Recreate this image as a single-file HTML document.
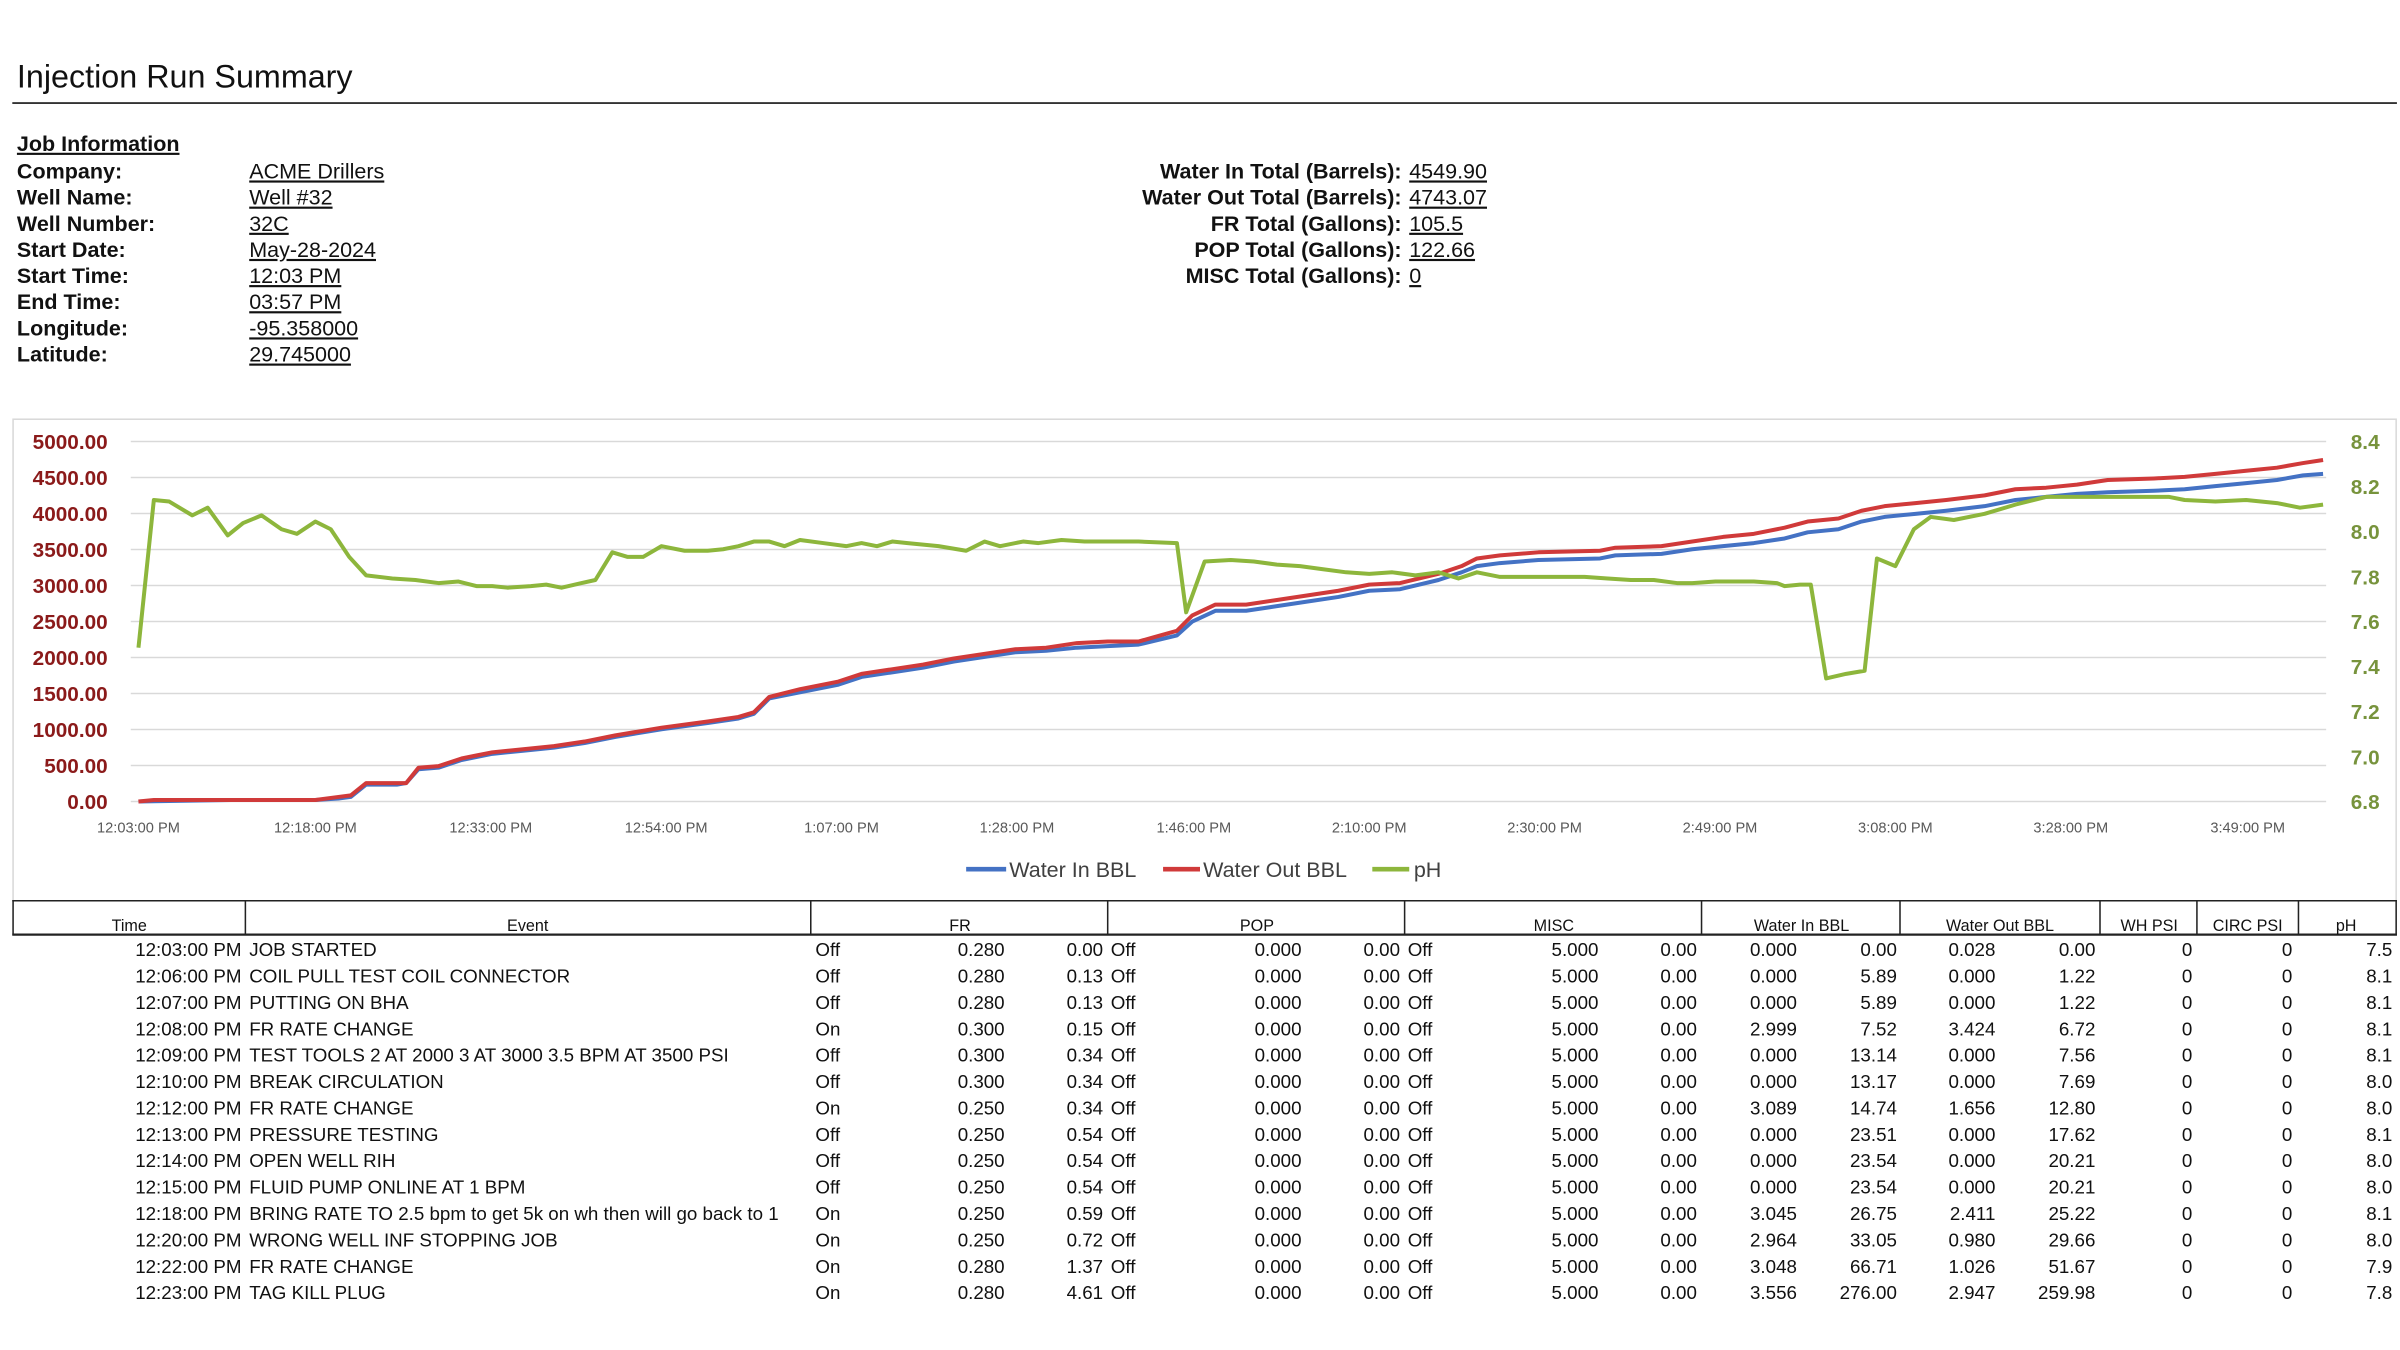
<!DOCTYPE html>
<html><head><meta charset="utf-8"><style>
html,body{margin:0;padding:0;background:#fff;width:2400px;height:1350px;overflow:hidden}
svg{display:block}
.n{font-family:"Liberation Sans Narrow","Liberation Sans",sans-serif}
.b{font-weight:bold}
.r text.e{text-anchor:end}
.r text{font-size:12.2px;fill:#111}
</style></head><body>
<svg width="2400" height="1350" viewBox="0 0 1560 877.5" preserveAspectRatio="none" xmlns="http://www.w3.org/2000/svg" class="n">
<text x="11" y="57" font-size="21" fill="#111">Injection Run Summary</text>
<line x1="8" y1="67" x2="1558" y2="67" stroke="#333" stroke-width="1.2"/>
<g font-size="14" fill="#111">
<text x="11" y="98" class="b" text-decoration="underline">Job Information</text>
<g class="b">
<text x="11" y="116">Company:</text><text x="11" y="133">Well Name:</text><text x="11" y="150">Well Number:</text>
<text x="11" y="167">Start Date:</text><text x="11" y="184">Start Time:</text><text x="11" y="201">End Time:</text>
<text x="11" y="218">Longitude:</text><text x="11" y="235">Latitude:</text>
</g>
<g text-decoration="underline">
<text x="162" y="116">ACME Drillers</text><text x="162" y="133">Well #32</text><text x="162" y="150">32C</text>
<text x="162" y="167">May-28-2024</text><text x="162" y="184">12:03 PM</text><text x="162" y="201">03:57 PM</text>
<text x="162" y="218">-95.358000</text><text x="162" y="235">29.745000</text>
</g>
<g class="b" text-anchor="end">
<text x="911" y="116">Water In Total (Barrels):</text><text x="911" y="133">Water Out Total (Barrels):</text>
<text x="911" y="150">FR Total (Gallons):</text><text x="911" y="167">POP Total (Gallons):</text><text x="911" y="184">MISC Total (Gallons):</text>
</g>
<g text-decoration="underline">
<text x="916" y="116">4549.90</text><text x="916" y="133">4743.07</text><text x="916" y="150">105.5</text>
<text x="916" y="167">122.66</text><text x="916" y="184">0</text>
</g>
</g>
<rect x="8.5" y="272.5" width="1549" height="313" fill="none" stroke="#d9d9d9" stroke-width="1"/>
<g stroke="#d9d9d9" stroke-width="1">
<line x1="85" x2="1512" y1="287" y2="287"/><line x1="85" x2="1512" y1="310.4" y2="310.4"/><line x1="85" x2="1512" y1="333.8" y2="333.8"/>
<line x1="85" x2="1512" y1="357.2" y2="357.2"/><line x1="85" x2="1512" y1="380.6" y2="380.6"/><line x1="85" x2="1512" y1="404" y2="404"/>
<line x1="85" x2="1512" y1="427.4" y2="427.4"/><line x1="85" x2="1512" y1="450.8" y2="450.8"/><line x1="85" x2="1512" y1="474.2" y2="474.2"/>
<line x1="85" x2="1512" y1="497.6" y2="497.6"/><line x1="85" x2="1512" y1="521" y2="521"/>
</g>
<g font-size="13.5" class="b" fill="#8b1a1a" text-anchor="end">
<text x="70" y="292">5000.00</text><text x="70" y="315.4">4500.00</text><text x="70" y="338.8">4000.00</text>
<text x="70" y="362.2">3500.00</text><text x="70" y="385.6">3000.00</text><text x="70" y="409">2500.00</text>
<text x="70" y="432.4">2000.00</text><text x="70" y="455.8">1500.00</text><text x="70" y="479.2">1000.00</text>
<text x="70" y="502.6">500.00</text><text x="70" y="526">0.00</text>
</g>
<g font-size="13.5" class="b" fill="#77933c">
<text x="1528" y="292">8.4</text><text x="1528" y="321.2">8.2</text><text x="1528" y="350.5">8.0</text>
<text x="1528" y="379.8">7.8</text><text x="1528" y="409">7.6</text><text x="1528" y="438.2">7.4</text>
<text x="1528" y="467.5">7.2</text><text x="1528" y="496.8">7.0</text><text x="1528" y="526">6.8</text>
</g>
<g font-size="9.5" fill="#595959" text-anchor="middle">
<text x="90" y="541">12:03:00 PM</text><text x="205" y="541">12:18:00 PM</text><text x="319" y="541">12:33:00 PM</text>
<text x="433" y="541">12:54:00 PM</text><text x="547" y="541">1:07:00 PM</text><text x="661" y="541">1:28:00 PM</text>
<text x="776" y="541">1:46:00 PM</text><text x="890" y="541">2:10:00 PM</text><text x="1004" y="541">2:30:00 PM</text>
<text x="1118" y="541">2:49:00 PM</text><text x="1232" y="541">3:08:00 PM</text><text x="1346" y="541">3:28:00 PM</text>
<text x="1461" y="541">3:49:00 PM</text>
</g>
<g fill="none" stroke-width="2.6" stroke-linejoin="round">
<polyline stroke="#4472c4" points="90,521 150,520 205,520 220,519 228,518 238,510 258,510 264,509 272,500 285,499 300,494 310,492 320,490 340,488 360,486 380,483 400,479 430,474 460,470 480,467 490,464 500,454 520,450 545,445 560,440 600,434 620,430 640,427 660,424 680,423 700,421 720,420 740,419 765,413 775,404 790,397 810,397 830,394 850,391 870,388 890,384 910,383 935,377 950,372 960,368 975,366 1000,364 1040,363 1050,361 1080,360 1100,357 1120,355 1140,353 1160,350 1175,346 1195,344 1210,339 1225,336 1245,334 1265,332 1290,329 1310,325 1330,323 1350,321 1370,320 1400,319 1420,318 1440,316 1460,314 1480,312 1497,309 1510,308"/>
<polyline stroke="#d03a3a" points="90,521 100,520 150,520 205,520 220,518 228,517 238,509 258,509 264,509 272,499 285,498 300,493 310,491 320,489 340,487 360,485 380,482 400,478 430,473 460,469 480,466 490,463 500,453 520,448 545,443 560,438 600,432 620,428 640,425 660,422 680,421 700,418 720,417 740,417 765,410 775,400 790,393 810,393 830,390 850,387 870,384 890,380 910,379 935,373 950,368 960,363 975,361 1000,359 1040,358 1050,356 1080,355 1100,352 1120,349 1140,347 1160,343 1175,339 1195,337 1210,332 1225,329 1245,327 1265,325 1290,322 1310,318 1330,317 1350,315 1370,312 1400,311 1420,310 1440,308 1460,306 1480,304 1497,301 1510,299"/>
<polyline stroke="#8db63c" points="90,421 100,325 110,326 125,335 135,330 148,348 158,340 170,335 183,344 193,347 205,339 215,344 227,362 238,374 255,376 270,377 285,379 298,378 310,381 320,381 330,382 345,381 355,380 365,382 378,379 387,377 398,359 408,362 418,362 430,355 445,358 460,358 470,357 480,355 490,352 500,352 510,355 520,351 535,353 550,355 560,353 570,355 580,352 590,353 610,355 628,358 640,352 650,355 665,352 675,353 690,351 705,352 720,352 740,352 765,353 771,398 783,365 800,364 815,365 830,367 845,368 860,370 875,372 890,373 905,372 920,374 935,372 948,376 960,372 975,375 1000,375 1030,375 1045,376 1060,377 1075,377 1090,379 1100,379 1115,378 1140,378 1155,379 1160,381 1170,380 1177,380 1187,441 1200,438 1212,436 1220,363 1232,368 1244,344 1255,336 1270,338 1290,334 1310,328 1330,323 1350,323 1380,323 1410,323 1420,325 1440,326 1460,325 1480,327 1495,330 1510,328"/>
</g>
<g font-size="14" fill="#404040">
<line x1="628" y1="565" x2="654" y2="565" stroke="#4472c4" stroke-width="3"/><text x="656" y="570">Water In BBL</text>
<line x1="756" y1="565" x2="780" y2="565" stroke="#d03a3a" stroke-width="3"/><text x="782" y="570">Water Out BBL</text>
<line x1="892" y1="565" x2="916" y2="565" stroke="#8db63c" stroke-width="3"/><text x="919" y="570">pH</text>
</g>
<g stroke="#222" stroke-width="1">
<line x1="8" y1="585.5" x2="1558" y2="585.5"/><line x1="8" y1="607.5" x2="1558" y2="607.5" stroke-width="1.5"/>
<line x1="8.5" y1="585" x2="8.5" y2="608"/><line x1="159.5" y1="585" x2="159.5" y2="608"/><line x1="527" y1="585" x2="527" y2="608"/>
<line x1="720" y1="585" x2="720" y2="608"/><line x1="913" y1="585" x2="913" y2="608"/><line x1="1106" y1="585" x2="1106" y2="608"/>
<line x1="1235" y1="585" x2="1235" y2="608"/><line x1="1365" y1="585" x2="1365" y2="608"/><line x1="1428" y1="585" x2="1428" y2="608"/>
<line x1="1494" y1="585" x2="1494" y2="608"/><line x1="1557.5" y1="585" x2="1557.5" y2="608"/>
</g>
<g font-size="10.5" fill="#111" text-anchor="middle">
<text x="84" y="605">Time</text><text x="343" y="605">Event</text><text x="624" y="605">FR</text><text x="817" y="605">POP</text>
<text x="1010" y="605">MISC</text><text x="1171" y="605">Water In BBL</text><text x="1300" y="605">Water Out BBL</text>
<text x="1397" y="605">WH PSI</text><text x="1461" y="605">CIRC PSI</text><text x="1525" y="605">pH</text>
</g>
<defs>
<g id="fix" font-size="12.2" fill="#111">
<text x="722" y="0">Off</text><text text-anchor="end" x="846" y="0">0.000</text><text text-anchor="end" x="910" y="0">0.00</text>
<text x="915" y="0">Off</text><text text-anchor="end" x="1039" y="0">5.000</text><text text-anchor="end" x="1103" y="0">0.00</text>
<text text-anchor="end" x="1425" y="0">0</text><text text-anchor="end" x="1490" y="0">0</text>
</g>
</defs>
<g class="r" transform="translate(0,621.5)"><use href="#fix"/><text class="e" x="157">12:03:00 PM</text><text x="162">JOB STARTED</text><text x="530">Off</text><text class="e" x="653">0.280</text><text class="e" x="717">0.00</text><text class="e" x="1168">0.000</text><text class="e" x="1233">0.00</text><text class="e" x="1297">0.028</text><text class="e" x="1362">0.00</text><text class="e" x="1555">7.5</text></g>
<g class="r" transform="translate(0,638.65)"><use href="#fix"/><text class="e" x="157">12:06:00 PM</text><text x="162">COIL PULL TEST COIL CONNECTOR</text><text x="530">Off</text><text class="e" x="653">0.280</text><text class="e" x="717">0.13</text><text class="e" x="1168">0.000</text><text class="e" x="1233">5.89</text><text class="e" x="1297">0.000</text><text class="e" x="1362">1.22</text><text class="e" x="1555">8.1</text></g>
<g class="r" transform="translate(0,655.8)"><use href="#fix"/><text class="e" x="157">12:07:00 PM</text><text x="162">PUTTING ON BHA</text><text x="530">Off</text><text class="e" x="653">0.280</text><text class="e" x="717">0.13</text><text class="e" x="1168">0.000</text><text class="e" x="1233">5.89</text><text class="e" x="1297">0.000</text><text class="e" x="1362">1.22</text><text class="e" x="1555">8.1</text></g>
<g class="r" transform="translate(0,672.95)"><use href="#fix"/><text class="e" x="157">12:08:00 PM</text><text x="162">FR RATE CHANGE</text><text x="530">On</text><text class="e" x="653">0.300</text><text class="e" x="717">0.15</text><text class="e" x="1168">2.999</text><text class="e" x="1233">7.52</text><text class="e" x="1297">3.424</text><text class="e" x="1362">6.72</text><text class="e" x="1555">8.1</text></g>
<g class="r" transform="translate(0,690.1)"><use href="#fix"/><text class="e" x="157">12:09:00 PM</text><text x="162">TEST TOOLS 2 AT 2000 3 AT 3000 3.5 BPM AT 3500 PSI</text><text x="530">Off</text><text class="e" x="653">0.300</text><text class="e" x="717">0.34</text><text class="e" x="1168">0.000</text><text class="e" x="1233">13.14</text><text class="e" x="1297">0.000</text><text class="e" x="1362">7.56</text><text class="e" x="1555">8.1</text></g>
<g class="r" transform="translate(0,707.25)"><use href="#fix"/><text class="e" x="157">12:10:00 PM</text><text x="162">BREAK CIRCULATION</text><text x="530">Off</text><text class="e" x="653">0.300</text><text class="e" x="717">0.34</text><text class="e" x="1168">0.000</text><text class="e" x="1233">13.17</text><text class="e" x="1297">0.000</text><text class="e" x="1362">7.69</text><text class="e" x="1555">8.0</text></g>
<g class="r" transform="translate(0,724.4)"><use href="#fix"/><text class="e" x="157">12:12:00 PM</text><text x="162">FR RATE CHANGE</text><text x="530">On</text><text class="e" x="653">0.250</text><text class="e" x="717">0.34</text><text class="e" x="1168">3.089</text><text class="e" x="1233">14.74</text><text class="e" x="1297">1.656</text><text class="e" x="1362">12.80</text><text class="e" x="1555">8.0</text></g>
<g class="r" transform="translate(0,741.55)"><use href="#fix"/><text class="e" x="157">12:13:00 PM</text><text x="162">PRESSURE TESTING</text><text x="530">Off</text><text class="e" x="653">0.250</text><text class="e" x="717">0.54</text><text class="e" x="1168">0.000</text><text class="e" x="1233">23.51</text><text class="e" x="1297">0.000</text><text class="e" x="1362">17.62</text><text class="e" x="1555">8.1</text></g>
<g class="r" transform="translate(0,758.7)"><use href="#fix"/><text class="e" x="157">12:14:00 PM</text><text x="162">OPEN WELL RIH</text><text x="530">Off</text><text class="e" x="653">0.250</text><text class="e" x="717">0.54</text><text class="e" x="1168">0.000</text><text class="e" x="1233">23.54</text><text class="e" x="1297">0.000</text><text class="e" x="1362">20.21</text><text class="e" x="1555">8.0</text></g>
<g class="r" transform="translate(0,775.85)"><use href="#fix"/><text class="e" x="157">12:15:00 PM</text><text x="162">FLUID PUMP ONLINE AT 1 BPM</text><text x="530">Off</text><text class="e" x="653">0.250</text><text class="e" x="717">0.54</text><text class="e" x="1168">0.000</text><text class="e" x="1233">23.54</text><text class="e" x="1297">0.000</text><text class="e" x="1362">20.21</text><text class="e" x="1555">8.0</text></g>
<g class="r" transform="translate(0,793)"><use href="#fix"/><text class="e" x="157">12:18:00 PM</text><text x="162">BRING RATE TO 2.5 bpm to get 5k on wh then will go back to 1</text><text x="530">On</text><text class="e" x="653">0.250</text><text class="e" x="717">0.59</text><text class="e" x="1168">3.045</text><text class="e" x="1233">26.75</text><text class="e" x="1297">2.411</text><text class="e" x="1362">25.22</text><text class="e" x="1555">8.1</text></g>
<g class="r" transform="translate(0,810.15)"><use href="#fix"/><text class="e" x="157">12:20:00 PM</text><text x="162">WRONG WELL INF STOPPING JOB</text><text x="530">On</text><text class="e" x="653">0.250</text><text class="e" x="717">0.72</text><text class="e" x="1168">2.964</text><text class="e" x="1233">33.05</text><text class="e" x="1297">0.980</text><text class="e" x="1362">29.66</text><text class="e" x="1555">8.0</text></g>
<g class="r" transform="translate(0,827.3)"><use href="#fix"/><text class="e" x="157">12:22:00 PM</text><text x="162">FR RATE CHANGE</text><text x="530">On</text><text class="e" x="653">0.280</text><text class="e" x="717">1.37</text><text class="e" x="1168">3.048</text><text class="e" x="1233">66.71</text><text class="e" x="1297">1.026</text><text class="e" x="1362">51.67</text><text class="e" x="1555">7.9</text></g>
<g class="r" transform="translate(0,844.45)"><use href="#fix"/><text class="e" x="157">12:23:00 PM</text><text x="162">TAG KILL PLUG</text><text x="530">On</text><text class="e" x="653">0.280</text><text class="e" x="717">4.61</text><text class="e" x="1168">3.556</text><text class="e" x="1233">276.00</text><text class="e" x="1297">2.947</text><text class="e" x="1362">259.98</text><text class="e" x="1555">7.8</text></g>
</svg>
</body></html>
